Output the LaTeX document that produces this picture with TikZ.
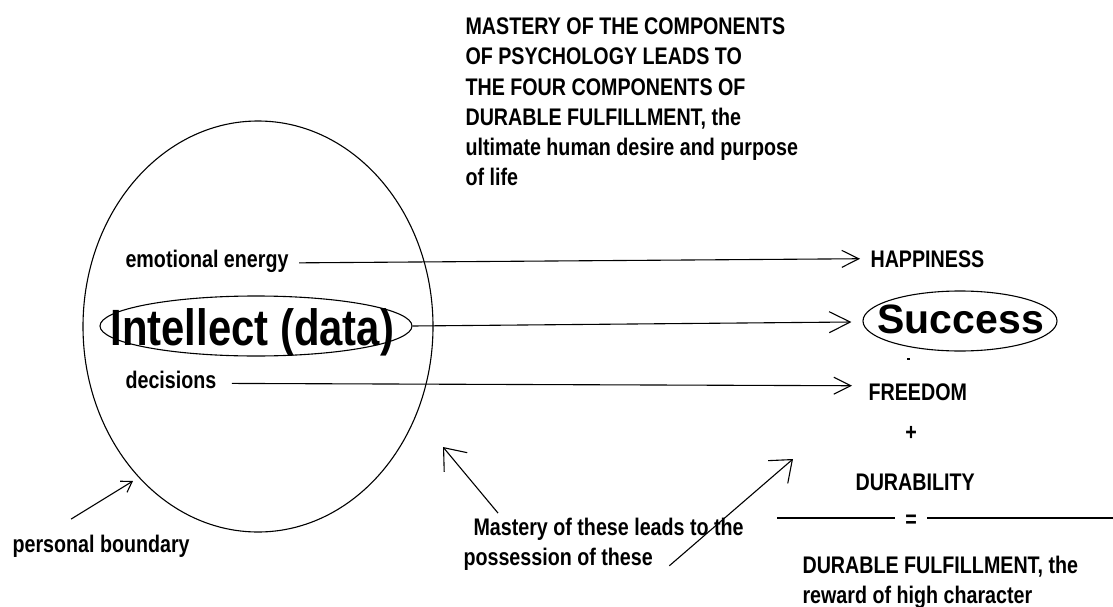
\documentclass[tikz,border=0pt]{standalone}
\usepackage{fontspec}
\setmainfont{Liberation Sans}[FakeStretch=0.82]
\newfontfamily\widefont{Liberation Sans}
\usetikzlibrary{shapes.geometric,arrows.meta}
\begin{document}
\begin{tikzpicture}[x=1pt,y=-1pt, line width=1.1pt,
  txt/.style={anchor=base west, inner sep=0pt, font=\fontsize{24}{30}\selectfont\bfseries},
  ell/.style={draw, ellipse, inner sep=0pt},
  arr/.style={-{Straight Barb[length=17pt,width=17pt]}},
  intarr/.style={-{Straight Barb[length=21pt,width=21pt]}},
  marr/.style={-{Straight Barb[length=19pt,width=30pt]}},
  pbarr/.style={-{Straight Barb[length=10pt,width=13pt]}}]
\useasboundingbox (0,0) rectangle (1113,607);

% title (base anchor = last line)
\node[txt, align=left] (title) at (465,185) {MASTERY OF THE COMPONENTS\\OF PSYCHOLOGY LEADS TO\\THE FOUR COMPONENTS OF\\DURABLE FULFILLMENT, the\\ultimate human desire and purpose\\of life};

% boundary and intellect
\node[ell, minimum width=350pt, minimum height=411pt] (bound) at (258,326.5) {};
\node[ell, minimum width=312pt, minimum height=60pt] (intel) at (256,326) {};
\node[txt, font=\fontsize{51}{55}\selectfont\bfseries] (inteltxt) at (110,345) {Intellect (data)};

\node[txt] (emo) at (125,267) {emotional energy};
\node[txt] (dec) at (125,388) {decisions};

% right side
\node[txt] (hap) at (870,267) {HAPPINESS};
\node[ell, minimum width=194pt, minimum height=60pt] (succ) at (960,321) {};
\node[anchor=base west, inner sep=0pt, font=\widefont\fontsize{41}{45}\selectfont\bfseries] (succtxt) at (877,333) {Success};
\fill (907,358) rectangle (910,360);
\node[txt] (free) at (868,400) {FREEDOM};
\node[font=\fontsize{24}{30}\selectfont\bfseries, inner sep=0pt] (plus) at (911,433) {+};
\node[txt] (dura) at (855,490) {DURABILITY};
\node[font=\fontsize{24}{30}\selectfont\bfseries, inner ysep=0pt, inner xsep=10pt] (eq) at (911,521) {=};
\coordinate (eqL) at (777,518);
\coordinate (eqR) at (1113,518);
\draw (eqL) -- ([yshift=3pt]eq.west);
\draw ([yshift=3pt]eq.east) -- (eqR);
\node[txt, align=left] (ful) at (802,603) {DURABLE FULFILLMENT, the\\reward of high character};

% connectors
\draw[arr] ([xshift=10pt,yshift=-2pt]emo.east) -- ([xshift=-10pt]hap.west);
\draw[intarr] (intel.east) -- ([xshift=-11pt,yshift=-1pt]succ.west);
\draw[arr] ([xshift=15pt,yshift=-4pt]dec.east) -- ([xshift=-16pt,yshift=6pt]free.west);

% bottom labels
\node[txt] (pb) at (12,552) {personal boundary};
\coordinate (pbtip) at (133,481);
\draw[pbarr] ([xshift=-30pt,yshift=15pt]pb.north) -- (pbtip);

\node[txt] (m1) at (473,535) {Mastery of these leads to the};
\node[txt] (m2) at (463,565) {possession of these};
\coordinate (mtip1) at (443,447);
\coordinate (mtip2) at (793,459);
\draw[marr] ([xshift=25pt,yshift=4pt]m1.north west) -- (mtip1);
\draw[marr] ([xshift=16pt,yshift=-7pt]m2.east) -- (mtip2);
\end{tikzpicture}
\end{document}
